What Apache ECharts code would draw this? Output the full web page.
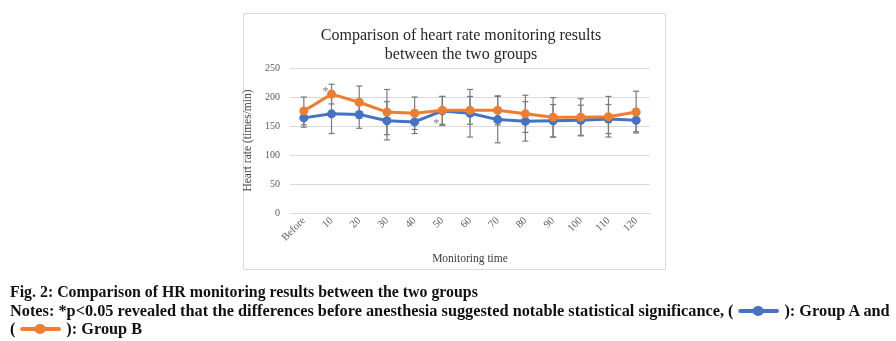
<!DOCTYPE html>
<html>
<head>
<meta charset="utf-8">
<script src="https://cdn.jsdelivr.net/npm/echarts@6/dist/echarts.min.js"></script>
<style>
  html, body { margin: 0; padding: 0; background: #fff; }
  #wrap { position: relative; width: 896px; height: 341px; overflow: hidden; }
  #chart { position: absolute; left: 0; top: 0; width: 896px; height: 341px; }
  .cap { position: absolute; left: 10px; font-family: 'Liberation Serif', 'Times New Roman', serif;
         font-weight: bold; font-size: 16px; color: #111; white-space: nowrap; line-height: 18px;
         transform-origin: 0 50%; }
  .ico { display: inline-block; position: relative; width: 40px; height: 10px; vertical-align: 0px; margin: 0 5px; }
  .ico::before { content: ''; position: absolute; left: 0; right: 0; top: 3px; height: 4px; border-radius: 2px; background: var(--c); }
  .ico::after { content: ''; position: absolute; left: 14px; top: 0; width: 11px; height: 10px; border-radius: 50%; background: var(--c); }
</style>
</head>
<body>
<div id="wrap">
  <div id="chart"></div>
  <div class="cap" id="l1" style="top:283px;">Fig. 2: Comparison of HR monitoring results between the two groups</div>
  <div class="cap" id="l2" style="top:302px;">Notes: *p&lt;0.05 revealed that the differences before anesthesia suggested notable statistical significance, (<span class="ico" style="--c:#4472C4"></span>): Group A and</div>
  <div class="cap" id="l3" style="top:320px;">(<span class="ico" style="--c:#ED7D31"></span>): Group B</div>
</div>
<script>
// ---- data ----
const categories = ['Before', '10', '20', '30', '40', '50', '60', '70', '80', '90', '100', '110', '120'];
const groupA = [164, 171, 170, 159, 157, 176, 172, 161, 158, 159, 160, 162, 160];
const groupB = [176, 205, 191, 174, 172, 177, 177, 177, 171, 165, 165, 166, 174];
const errA = [16, 34, 24, 33, 20, 25, 41, 40, 34, 28, 26, 25, 20];
const errB = [24, 17, 28, 39, 28, 24, 24, 25, 32, 34, 32, 35, 36];
const yTicks = [0, 50, 100, 150, 200, 250];
const starIndex = [1, 5];
const starValue = [212, 157];

// fit caption lines to the reference widths
(function () {
  const l1 = document.getElementById('l1');
  const l2 = document.getElementById('l2');
  const l3 = document.getElementById('l3');
  const s1 = 468 / l1.scrollWidth;
  const s2 = 880 / l2.scrollWidth;
  l1.style.transform = 'scaleX(' + s1 + ')';
  l2.style.transform = 'scaleX(' + s2 + ')';
  l3.style.transform = 'scaleX(' + s2 + ')';
})();

const chart = echarts.init(document.getElementById('chart'), null, { renderer: 'canvas' });

function errData(vals, errs) {
  return vals.map((v, i) => [i, v, errs[i]]);
}
function errRender(params, api) {
  const x = api.value(0), v = api.value(1), e = api.value(2);
  const top = api.coord([x, v + e]);
  const bot = api.coord([x, v - e]);
  const w = 3;
  const st = { stroke: '#7a7a7a', lineWidth: 1.2 };
  return {
    type: 'group',
    children: [
      { type: 'line', shape: { x1: top[0], y1: top[1], x2: bot[0], y2: bot[1] }, style: st },
      { type: 'line', shape: { x1: top[0] - w, y1: top[1], x2: top[0] + w, y2: top[1] }, style: st },
      { type: 'line', shape: { x1: bot[0] - w, y1: bot[1], x2: bot[0] + w, y2: bot[1] }, style: st }
    ]
  };
}

const serif = "'Liberation Serif', 'Times New Roman', serif";

chart.setOption({
  animation: false,
  backgroundColor: '#fff',
  graphic: [{
    type: 'rect', left: 243, top: 13, z: -10,
    shape: { width: 422, height: 256 },
    style: { fill: '#fff', stroke: '#d9d9d9', lineWidth: 1 }
  }],
  title: {
    text: 'Comparison of heart rate monitoring results\nbetween the two groups',
    left: 456, top: 21, textAlign: 'center',
    textStyle: { fontFamily: serif, fontSize: 16, fontWeight: 'normal', color: '#262626', lineHeight: 19 }
  },
  grid: { left: 290, right: 246, top: 68, bottom: 128, containLabel: false },
  xAxis: {
    type: 'category', data: categories, boundaryGap: true,
    name: 'Monitoring time', nameLocation: 'middle', nameGap: 40,
    nameTextStyle: { fontFamily: serif, fontSize: 11.5, color: '#404040' },
    axisLine: { lineStyle: { color: '#d9d9d9' } },
    axisTick: { show: false },
    axisLabel: { rotate: 45, margin: 6, fontFamily: serif, fontSize: 10.5, color: '#595959', interval: 0 }
  },
  yAxis: {
    type: 'value', min: 0, max: 250, interval: 50,
    name: 'Heart rate (times/min)', nameLocation: 'middle', nameGap: 36,
    nameTextStyle: { fontFamily: serif, fontSize: 11.5, color: '#404040' },
    axisLine: { show: false }, axisTick: { show: false },
    splitLine: { lineStyle: { color: '#d9d9d9', width: 1 } },
    axisLabel: { fontFamily: serif, fontSize: 10, color: '#595959', margin: 10,
      formatter: v => (yTicks.indexOf(v) >= 0 ? String(v) : '') }
  },
  series: [
    { type: 'custom', name: 'errA', data: errData(groupA, errA), renderItem: errRender, z: 1,
      encode: { x: 0, y: 1 }, silent: true },
    { type: 'custom', name: 'errB', data: errData(groupB, errB), renderItem: errRender, z: 1,
      encode: { x: 0, y: 1 }, silent: true },
    { type: 'line', name: 'Group A', data: groupA, symbol: 'circle', symbolSize: 9, z: 3,
      lineStyle: { color: '#4472C4', width: 3 }, itemStyle: { color: '#4472C4' } },
    { type: 'line', name: 'Group B', data: groupB, symbol: 'circle', symbolSize: 9, z: 4,
      lineStyle: { color: '#ED7D31', width: 3 }, itemStyle: { color: '#ED7D31' } },
    { type: 'scatter', name: 'stars', z: 5, symbolSize: 2, itemStyle: { color: 'rgba(0,0,0,0)' },
      data: starIndex.map((c, i) => [c, starValue[i]]),
      label: { show: true, formatter: '*', position: 'inside', fontFamily: serif, fontSize: 12, color: '#595959',
        offset: [-6, 2] } }
  ]
});
</script>
</body>
</html>
